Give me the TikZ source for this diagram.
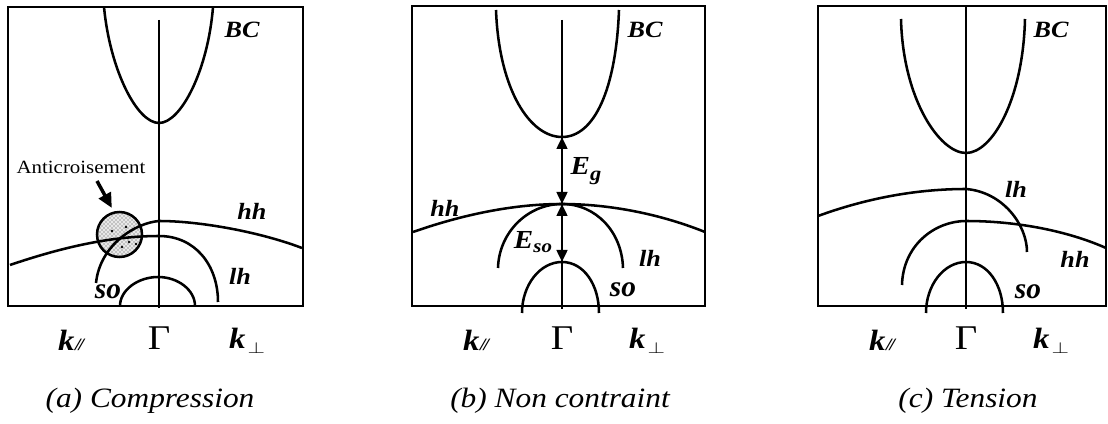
\documentclass[tikz,border=0pt]{standalone}
\usepackage{fontspec}
\usepackage{graphicx}
\setmainfont{Liberation Serif}
\newfontfamily\stf{Liberation Serif}[FakeStretch=1.12]
\usetikzlibrary{arrows.meta,patterns}
\newcommand{\kpar}{\textbf{\textit{k}}\kern0.5pt{\fontsize{13}{13}\selectfont\itshape\bfseries /\kern-1.5pt/}}
\newcommand{\kperp}{\textbf{\textit{k}}\kern1.5pt\raisebox{-3.5pt}{\scalebox{1.4}[1]{\fontsize{13}{13}\selectfont$\perp$}}}
\begin{document}
\begin{tikzpicture}[x=0.75pt,y=-0.75pt,
  frame/.style={line width=2.2pt},
  band/.style={line width=1.9pt},
  gam/.style={line width=1.9pt},
  lab/.style={font=\stf\fontsize{17.5}{18}\selectfont\bfseries\itshape, inner sep=0pt},
  solab/.style={font=\fontsize{22}{24}\selectfont\bfseries\itshape, inner sep=0pt},
  elab/.style={font=\stf\fontsize{19.5}{20}\selectfont\bfseries\itshape, inner sep=0pt},
  klab/.style={font=\stf\fontsize{22}{24}\selectfont, inner sep=0pt},
  glab/.style={font=\stf\fontsize{26}{28}\selectfont, inner sep=0pt},
  captxt/.style={font=\stf\fontsize{21}{22}\selectfont\itshape, inner sep=0pt},
  anti/.style={font=\stf\fontsize{14}{15}\selectfont, inner sep=0pt},
  gap/.style={line width=1.9pt, {Triangle[length=9pt,width=8pt]}-{Triangle[length=9pt,width=8pt]}},
  spot/.style={fill=black, inner sep=0pt, minimum size=2.2pt, circle},
]
\useasboundingbox (0,0) rectangle (1108,424);

% ---------------- (a) Compression ----------------
\draw[frame] (8,7) rectangle (303,306);
\node[circle, draw, line width=1.9pt, minimum size=33.75pt, inner sep=0pt,
      preaction={fill=gray!18}, pattern=crosshatch dots, pattern color=gray!60!black] (ac) at (119.5,234.5) {};
\node[spot] (d1) at (112,231) {};
\node[spot] (d2) at (126,227) {};
\node[spot] (d3) at (122,247) {};
\node[spot] (d4) at (129,242) {};
\node[spot] (d5) at (136,244) {};
\draw[gam] (159,20) -- (159,308);
\draw[band] (104,7) .. controls (110,70) and (137,123) .. (159,123) .. controls (181,123) and (208,70) .. (213,7);
\draw[band] (302,248) .. controls (260,232) and (200,221) .. (159,221) .. controls (135,223) and (100,245) .. (96,283);
\draw[band] (10,265) .. controls (60,248) and (110,236) .. (159,236) .. controls (195,236) and (218,265) .. (218,302);
\draw[band] (120,306) .. controls (120,290) and (138,277) .. (158,277) .. controls (178,277) and (195,290) .. (195,306);
\node[anti] (antil) at (81,167) {Anticroisement};
\coordinate (atail) at (97,181);
\draw[line width=2.6pt, -{Triangle[length=11pt,width=10pt]}, shorten >=3pt] (atail) -- (ac.104);
\node[lab] (bca) at (242,30) {BC};
\node[lab] (hha) at (252,211) {hh};
\node[lab] (lha) at (240,276) {lh};
\node[solab] (soa) at (108,292) {so};
\node[klab] (kpa) at (71,340) {\kpar};
\node[glab] (ga) at (159,338.5) {Γ};
\node[klab] (kqa) at (247,341) {\kperp};
\node[captxt] (capa) at (150,401) {(a) Compression};

% ---------------- (b) Non contraint ----------------
\draw[frame] (412,6) rectangle (705,306);
\draw[gam] (562,20) -- (562,309);
\draw[band] (496,10) .. controls (499,90) and (530,137) .. (562,137) .. controls (594,137) and (616,90) .. (619,10);
\draw[band] (413,232) .. controls (470,212) and (520,204) .. (562,204) .. controls (604,204) and (655,212) .. (705,232);
\draw[band] (498,268) .. controls (499,232) and (528,204) .. (562,204) .. controls (596,204) and (622,232) .. (623,268);
\draw[band] (522,313) .. controls (522,285) and (540,262) .. (562,262) .. controls (584,262) and (599,285) .. (599,313);
\coordinate (bcb) at (562,137);
\coordinate (vbb) at (562,204);
\coordinate (sob) at (562,262);
\draw[gap] (vbb) -- (bcb);
\draw[gap] (vbb) -- (sob);
\node[lab] (bcbl) at (645,30) {BC};
\node[elab] (egl) at (586,171) {E\raisebox{-4pt}{\fontsize{15}{15}\selectfont g}};
\node[lab] (hhb) at (445,208) {hh};
\node[elab] (esol) at (533,242) {E\raisebox{-3pt}{\fontsize{14}{14}\selectfont so}};
\node[lab] (lhb) at (650,258) {lh};
\node[solab] (sobl) at (623,290) {so};
\node[klab] (kpb) at (476,340) {\kpar};
\node[glab] (gb) at (562,338.5) {Γ};
\node[klab] (kqb) at (647,341) {\kperp};
\node[captxt] (capb) at (560,401) {(b) Non contraint};

% ---------------- (c) Tension ----------------
\draw[frame] (818,6) rectangle (1106,306);
\draw[gam] (966,6) -- (966,309);
\draw[band] (901,19) .. controls (903,100) and (940,153) .. (966,153) .. controls (992,153) and (1023,100) .. (1025,19);
\draw[band] (818,216) .. controls (870,197) and (920,189) .. (966,189) .. controls (1003,192) and (1027,225) .. (1027,252);
\draw[band] (902,285) .. controls (903,245) and (935,221) .. (966,221) .. controls (1020,221) and (1070,232) .. (1106,248);
\draw[band] (926,313) .. controls (926,285) and (944,262) .. (966,262) .. controls (988,262) and (1003,285) .. (1003,313);
\node[lab] (bcc) at (1051,30) {BC};
\node[lab] (lhc) at (1016,189) {lh};
\node[lab] (hhc) at (1075,259) {hh};
\node[solab] (soc) at (1028,292) {so};
\node[klab] (kpc) at (882,340) {\kpar};
\node[glab] (gc) at (966,338.5) {Γ};
\node[klab] (kqc) at (1051,341) {\kperp};
\node[captxt] (capc) at (968,401) {(c) Tension};
\end{tikzpicture}
\end{document}
